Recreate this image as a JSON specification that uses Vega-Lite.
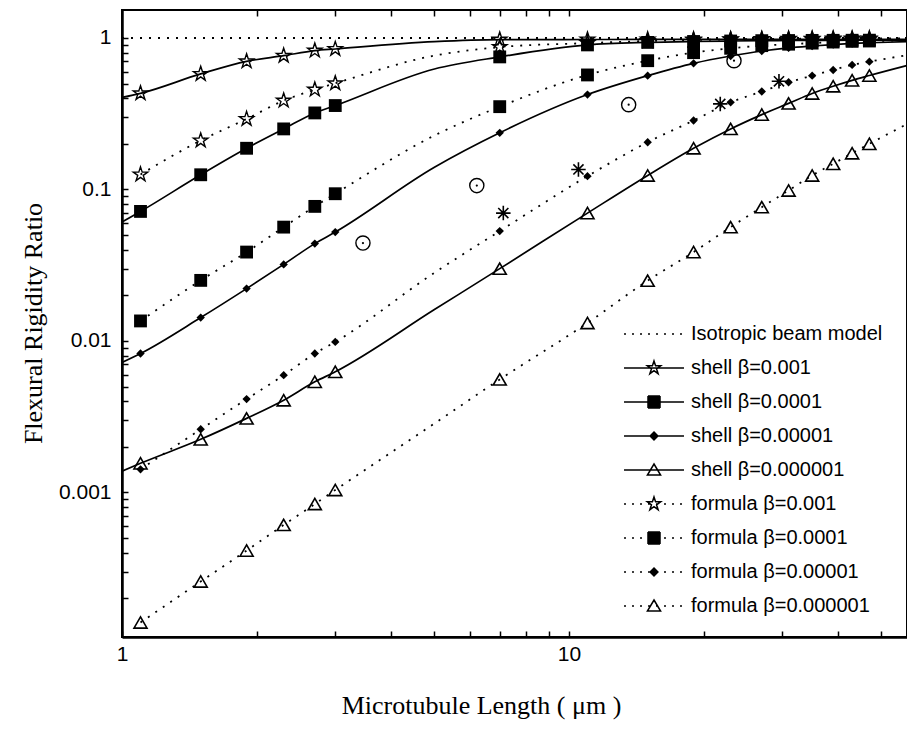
{
  "$schema": "https://vega.github.io/schema/vega-lite/v6.json",
  "width": 785,
  "height": 627,
  "autosize": {"type": "none"},
  "padding": {"left": 122, "top": 10, "right": 0, "bottom": 93},
  "background": "white",
  "config": {
    "view": {"stroke": "black", "strokeWidth": 2},
    "axis": {"domainColor": "black", "domainWidth": 2.5, "tickColor": "black", "tickWidth": 1.5, "labelColor": "black", "labelFont": "Liberation Sans", "labelFontSize": 21, "titleColor": "black", "titleFont": "Liberation Serif", "titleFontSize": 26, "titleFontWeight": "normal", "grid": false}
  },
  "datasets": {
    "curves": [
      {"series": "Isotropic beam model", "x": 1, "y": 1},
      {"series": "Isotropic beam model", "x": 57, "y": 1},
      {"series": "shell β=0.001", "x": 1, "y": 0.405},
      {"series": "shell β=0.001", "x": 1.1, "y": 0.431},
      {"series": "shell β=0.001", "x": 1.5, "y": 0.579},
      {"series": "shell β=0.001", "x": 1.9, "y": 0.701},
      {"series": "shell β=0.001", "x": 2.3, "y": 0.764},
      {"series": "shell β=0.001", "x": 2.7, "y": 0.825},
      {"series": "shell β=0.001", "x": 3, "y": 0.846},
      {"series": "shell β=0.001", "x": 5, "y": 0.945},
      {"series": "shell β=0.001", "x": 7, "y": 0.975},
      {"series": "shell β=0.001", "x": 11, "y": 0.977},
      {"series": "shell β=0.001", "x": 15, "y": 0.978},
      {"series": "shell β=0.001", "x": 19, "y": 0.978},
      {"series": "shell β=0.001", "x": 23, "y": 0.979},
      {"series": "shell β=0.001", "x": 27, "y": 0.979},
      {"series": "shell β=0.001", "x": 31, "y": 0.98},
      {"series": "shell β=0.001", "x": 35, "y": 0.98},
      {"series": "shell β=0.001", "x": 39, "y": 0.98},
      {"series": "shell β=0.001", "x": 43, "y": 0.98},
      {"series": "shell β=0.001", "x": 47, "y": 0.981},
      {"series": "shell β=0.001", "x": 57, "y": 0.981},
      {"series": "shell β=0.0001", "x": 1, "y": 0.061},
      {"series": "shell β=0.0001", "x": 1.1, "y": 0.0716},
      {"series": "shell β=0.0001", "x": 1.5, "y": 0.125},
      {"series": "shell β=0.0001", "x": 1.9, "y": 0.187},
      {"series": "shell β=0.0001", "x": 2.3, "y": 0.251},
      {"series": "shell β=0.0001", "x": 2.7, "y": 0.32},
      {"series": "shell β=0.0001", "x": 3, "y": 0.358},
      {"series": "shell β=0.0001", "x": 5, "y": 0.624},
      {"series": "shell β=0.0001", "x": 7, "y": 0.75},
      {"series": "shell β=0.0001", "x": 11, "y": 0.9},
      {"series": "shell β=0.0001", "x": 15, "y": 0.935},
      {"series": "shell β=0.0001", "x": 19, "y": 0.948},
      {"series": "shell β=0.0001", "x": 23, "y": 0.955},
      {"series": "shell β=0.0001", "x": 27, "y": 0.96},
      {"series": "shell β=0.0001", "x": 31, "y": 0.962},
      {"series": "shell β=0.0001", "x": 35, "y": 0.964},
      {"series": "shell β=0.0001", "x": 39, "y": 0.965},
      {"series": "shell β=0.0001", "x": 43, "y": 0.966},
      {"series": "shell β=0.0001", "x": 47, "y": 0.967},
      {"series": "shell β=0.0001", "x": 57, "y": 0.968},
      {"series": "shell β=0.00001", "x": 1, "y": 0.00721},
      {"series": "shell β=0.00001", "x": 1.1, "y": 0.00826},
      {"series": "shell β=0.00001", "x": 1.5, "y": 0.01426},
      {"series": "shell β=0.00001", "x": 1.9, "y": 0.02215},
      {"series": "shell β=0.00001", "x": 2.3, "y": 0.032},
      {"series": "shell β=0.00001", "x": 2.7, "y": 0.0439},
      {"series": "shell β=0.00001", "x": 3, "y": 0.0523},
      {"series": "shell β=0.00001", "x": 5, "y": 0.14},
      {"series": "shell β=0.00001", "x": 7, "y": 0.2365},
      {"series": "shell β=0.00001", "x": 11, "y": 0.423},
      {"series": "shell β=0.00001", "x": 15, "y": 0.564},
      {"series": "shell β=0.00001", "x": 19, "y": 0.68},
      {"series": "shell β=0.00001", "x": 23, "y": 0.76},
      {"series": "shell β=0.00001", "x": 27, "y": 0.82},
      {"series": "shell β=0.00001", "x": 31, "y": 0.86},
      {"series": "shell β=0.00001", "x": 35, "y": 0.885},
      {"series": "shell β=0.00001", "x": 39, "y": 0.905},
      {"series": "shell β=0.00001", "x": 43, "y": 0.92},
      {"series": "shell β=0.00001", "x": 47, "y": 0.93},
      {"series": "shell β=0.00001", "x": 57, "y": 0.945},
      {"series": "shell β=0.000001", "x": 1, "y": 0.00138},
      {"series": "shell β=0.000001", "x": 1.1, "y": 0.001556},
      {"series": "shell β=0.000001", "x": 1.5, "y": 0.00224},
      {"series": "shell β=0.000001", "x": 1.9, "y": 0.00308},
      {"series": "shell β=0.000001", "x": 2.3, "y": 0.00406},
      {"series": "shell β=0.000001", "x": 2.7, "y": 0.00537},
      {"series": "shell β=0.000001", "x": 3, "y": 0.00625},
      {"series": "shell β=0.000001", "x": 5, "y": 0.0161},
      {"series": "shell β=0.000001", "x": 7, "y": 0.03},
      {"series": "shell β=0.000001", "x": 11, "y": 0.0698},
      {"series": "shell β=0.000001", "x": 15, "y": 0.1237},
      {"series": "shell β=0.000001", "x": 19, "y": 0.187},
      {"series": "shell β=0.000001", "x": 23, "y": 0.251},
      {"series": "shell β=0.000001", "x": 27, "y": 0.312},
      {"series": "shell β=0.000001", "x": 31, "y": 0.37},
      {"series": "shell β=0.000001", "x": 35, "y": 0.43},
      {"series": "shell β=0.000001", "x": 39, "y": 0.48},
      {"series": "shell β=0.000001", "x": 43, "y": 0.525},
      {"series": "shell β=0.000001", "x": 47, "y": 0.565},
      {"series": "shell β=0.000001", "x": 57, "y": 0.657},
      {"series": "formula β=0.001", "x": 1.1, "y": 0.1256},
      {"series": "formula β=0.001", "x": 1.5, "y": 0.2104},
      {"series": "formula β=0.001", "x": 1.9, "y": 0.292},
      {"series": "formula β=0.001", "x": 2.3, "y": 0.386},
      {"series": "formula β=0.001", "x": 2.7, "y": 0.456},
      {"series": "formula β=0.001", "x": 3, "y": 0.502},
      {"series": "formula β=0.001", "x": 5, "y": 0.765},
      {"series": "formula β=0.001", "x": 7, "y": 0.87},
      {"series": "formula β=0.001", "x": 11, "y": 0.925},
      {"series": "formula β=0.001", "x": 15, "y": 0.955},
      {"series": "formula β=0.001", "x": 19, "y": 0.97},
      {"series": "formula β=0.001", "x": 23, "y": 0.978},
      {"series": "formula β=0.001", "x": 27, "y": 0.984},
      {"series": "formula β=0.001", "x": 31, "y": 0.987},
      {"series": "formula β=0.001", "x": 35, "y": 0.989},
      {"series": "formula β=0.001", "x": 39, "y": 0.991},
      {"series": "formula β=0.001", "x": 43, "y": 0.992},
      {"series": "formula β=0.001", "x": 47, "y": 0.993},
      {"series": "formula β=0.001", "x": 57, "y": 0.995},
      {"series": "formula β=0.0001", "x": 1.1, "y": 0.01355},
      {"series": "formula β=0.0001", "x": 1.5, "y": 0.0251},
      {"series": "formula β=0.0001", "x": 1.9, "y": 0.0386},
      {"series": "formula β=0.0001", "x": 2.3, "y": 0.0564},
      {"series": "formula β=0.0001", "x": 2.7, "y": 0.0773},
      {"series": "formula β=0.0001", "x": 3, "y": 0.0937},
      {"series": "formula β=0.0001", "x": 5, "y": 0.227},
      {"series": "formula β=0.0001", "x": 7, "y": 0.352},
      {"series": "formula β=0.0001", "x": 11, "y": 0.57},
      {"series": "formula β=0.0001", "x": 15, "y": 0.708},
      {"series": "formula β=0.0001", "x": 19, "y": 0.8},
      {"series": "formula β=0.0001", "x": 23, "y": 0.855},
      {"series": "formula β=0.0001", "x": 27, "y": 0.89},
      {"series": "formula β=0.0001", "x": 31, "y": 0.91},
      {"series": "formula β=0.0001", "x": 35, "y": 0.925},
      {"series": "formula β=0.0001", "x": 39, "y": 0.94},
      {"series": "formula β=0.0001", "x": 43, "y": 0.95},
      {"series": "formula β=0.0001", "x": 47, "y": 0.955},
      {"series": "formula β=0.0001", "x": 57, "y": 0.965},
      {"series": "formula β=0.00001", "x": 1.1, "y": 0.00142},
      {"series": "formula β=0.00001", "x": 1.5, "y": 0.00261},
      {"series": "formula β=0.00001", "x": 1.9, "y": 0.00413},
      {"series": "formula β=0.00001", "x": 2.3, "y": 0.00594},
      {"series": "formula β=0.00001", "x": 2.7, "y": 0.00826},
      {"series": "formula β=0.00001", "x": 3, "y": 0.00985},
      {"series": "formula β=0.00001", "x": 5, "y": 0.0282},
      {"series": "formula β=0.00001", "x": 7, "y": 0.0531},
      {"series": "formula β=0.00001", "x": 11, "y": 0.1224},
      {"series": "formula β=0.00001", "x": 15, "y": 0.205},
      {"series": "formula β=0.00001", "x": 19, "y": 0.285},
      {"series": "formula β=0.00001", "x": 23, "y": 0.376},
      {"series": "formula β=0.00001", "x": 27, "y": 0.443},
      {"series": "formula β=0.00001", "x": 31, "y": 0.51},
      {"series": "formula β=0.00001", "x": 35, "y": 0.564},
      {"series": "formula β=0.00001", "x": 39, "y": 0.615},
      {"series": "formula β=0.00001", "x": 43, "y": 0.664},
      {"series": "formula β=0.00001", "x": 47, "y": 0.698},
      {"series": "formula β=0.00001", "x": 57, "y": 0.77},
      {"series": "formula β=0.000001", "x": 1.1, "y": 0.0001384},
      {"series": "formula β=0.000001", "x": 1.5, "y": 0.000258},
      {"series": "formula β=0.000001", "x": 1.9, "y": 0.000413},
      {"series": "formula β=0.000001", "x": 2.3, "y": 0.00061},
      {"series": "formula β=0.000001", "x": 2.7, "y": 0.000838},
      {"series": "formula β=0.000001", "x": 3, "y": 0.001037},
      {"series": "formula β=0.000001", "x": 5, "y": 0.00285},
      {"series": "formula β=0.000001", "x": 7, "y": 0.00557},
      {"series": "formula β=0.000001", "x": 11, "y": 0.01314},
      {"series": "formula β=0.000001", "x": 15, "y": 0.025},
      {"series": "formula β=0.000001", "x": 19, "y": 0.0386},
      {"series": "formula β=0.000001", "x": 23, "y": 0.0564},
      {"series": "formula β=0.000001", "x": 27, "y": 0.0764},
      {"series": "formula β=0.000001", "x": 31, "y": 0.0985},
      {"series": "formula β=0.000001", "x": 35, "y": 0.1237},
      {"series": "formula β=0.000001", "x": 39, "y": 0.1476},
      {"series": "formula β=0.000001", "x": 43, "y": 0.1735},
      {"series": "formula β=0.000001", "x": 47, "y": 0.2},
      {"series": "formula β=0.000001", "x": 57, "y": 0.27}
    ],
    "circles": [
      {"x": 3.46, "y": 0.0443},
      {"x": 6.22, "y": 0.106},
      {"x": 13.6, "y": 0.363},
      {"x": 23.4, "y": 0.708}
    ],
    "asterisks": [
      {"x": 7.13, "y": 0.0698},
      {"x": 10.5, "y": 0.1355},
      {"x": 21.8, "y": 0.367},
      {"x": 29.5, "y": 0.5175}
    ]
  },
  "layer": [
    {
      "layer": [
        {
          "data": {"name": "curves"},
          "transform": [{"filter": "indexof(datum.series, 'shell') == 0"}],
          "mark": {"type": "line", "interpolate": "monotone", "strokeWidth": 1.7, "color": "black", "clip": true},
          "encoding": {
            "x": {"field": "x", "type": "quantitative", "scale": {"type": "log", "domain": [1, 57.05], "nice": false},
              "axis": {"orient": "bottom", "values": [1, 2, 3, 4, 5, 6, 7, 8, 9, 10, 20, 30, 40, 50], "format": "~g",
                "labelExpr": "datum.value == 1 || datum.value == 10 ? datum.label : ''",
                "tickSize": -6, "labelPadding": 12, "labelFlush": false,
                "title": "Microtubule Length ( μm )", "titleX": 359, "titleY": 76, "titleAlign": "center", "titleBaseline": "alphabetic"}},
            "y": {"field": "y", "type": "quantitative", "scale": {"type": "log", "domain": [0.000111, 1.53], "nice": false},
              "axis": {"orient": "left", "values": [0.0002, 0.0003, 0.0004, 0.0005, 0.0006, 0.0007, 0.0008, 0.0009, 0.001, 0.002, 0.003, 0.004, 0.005, 0.006, 0.007, 0.008, 0.009, 0.01, 0.02, 0.03, 0.04, 0.05, 0.06, 0.07, 0.08, 0.09, 0.1, 0.2, 0.3, 0.4, 0.5, 0.6, 0.7, 0.8, 0.9, 1], "format": "~g",
                "labelExpr": "datum.value == 1 || datum.value == 0.1 || datum.value == 0.01 || datum.value == 0.001 ? datum.label : ''",
                "tickSize": -6, "labelPadding": 17, "labelFlush": false,
                "title": "Flexural Rigidity Ratio", "titleX": -89, "titleY": 313, "titleAngle": 270, "titleAlign": "center", "titleBaseline": "middle"}},
            "detail": {"field": "series"}
          }
        },
        {
          "data": {"name": "curves"},
          "transform": [{"filter": "indexof(datum.series, 'shell') != 0"}],
          "mark": {"type": "line", "interpolate": "monotone", "strokeWidth": 1.8, "strokeDash": [2, 7], "color": "black", "clip": true},
          "encoding": {
            "x": {"field": "x", "type": "quantitative"},
            "y": {"field": "y", "type": "quantitative"},
            "detail": {"field": "series"}
          }
        },
        {
          "data": {"name": "curves"},
          "transform": [
            {"filter": {"field": "series", "oneOf": ["shell β=0.001", "formula β=0.001"]}},
            {"filter": "datum.x != 1 && datum.x != 5 && datum.x != 57"}
          ],
          "mark": {"type": "point", "shape": "M0,-1L0.225,-0.309L0.951,-0.309L0.363,0.118L0.588,0.809L0,0.382L-0.588,0.809L-0.363,0.118L-0.951,-0.309L-0.225,-0.309Z", "size": 230, "filled": false, "color": "black", "strokeWidth": 1.4, "opacity": 1},
          "encoding": {"x": {"field": "x", "type": "quantitative"}, "y": {"field": "y", "type": "quantitative"}}
        },
        {
          "data": {"name": "curves"},
          "transform": [
            {"filter": {"field": "series", "oneOf": ["shell β=0.0001", "formula β=0.0001"]}},
            {"filter": "datum.x != 1 && datum.x != 5 && datum.x != 57"}
          ],
          "mark": {"type": "point", "shape": "square", "size": 165, "filled": true, "color": "black", "opacity": 1},
          "encoding": {"x": {"field": "x", "type": "quantitative"}, "y": {"field": "y", "type": "quantitative"}}
        },
        {
          "data": {"name": "curves"},
          "transform": [
            {"filter": {"field": "series", "oneOf": ["shell β=0.00001", "formula β=0.00001"]}},
            {"filter": "datum.x != 1 && datum.x != 5 && datum.x != 57"}
          ],
          "mark": {"type": "point", "shape": "diamond", "size": 70, "filled": true, "color": "black", "opacity": 1},
          "encoding": {"x": {"field": "x", "type": "quantitative"}, "y": {"field": "y", "type": "quantitative"}}
        },
        {
          "data": {"name": "curves"},
          "transform": [
            {"filter": {"field": "series", "oneOf": ["shell β=0.000001", "formula β=0.000001"]}},
            {"filter": "datum.x != 1 && datum.x != 5 && datum.x != 57"}
          ],
          "mark": {"type": "point", "shape": "triangle-up", "size": 170, "filled": false, "color": "black", "strokeWidth": 1.6, "opacity": 1},
          "encoding": {"x": {"field": "x", "type": "quantitative"}, "y": {"field": "y", "type": "quantitative"}}
        },
        {
          "data": {"name": "circles"},
          "mark": {"type": "point", "shape": "circle", "size": 200, "filled": false, "color": "black", "strokeWidth": 1.4, "opacity": 1},
          "encoding": {"x": {"field": "x", "type": "quantitative"}, "y": {"field": "y", "type": "quantitative"}}
        },
        {
          "data": {"name": "circles"},
          "mark": {"type": "circle", "size": 5, "color": "black", "opacity": 1},
          "encoding": {"x": {"field": "x", "type": "quantitative"}, "y": {"field": "y", "type": "quantitative"}}
        },
        {
          "data": {"name": "asterisks"},
          "mark": {"type": "point", "shape": "M0,-1L0,1M-1,0L1,0M-0.7,-0.7L0.7,0.7M-0.7,0.7L0.7,-0.7", "size": 210, "filled": false, "color": "black", "strokeWidth": 1.6, "opacity": 1},
          "encoding": {"x": {"field": "x", "type": "quantitative"}, "y": {"field": "y", "type": "quantitative"}}
        },
        {
          "data": {"name": "curves"},
          "transform": [{"filter": "datum.x > 1000"}],
          "mark": {"type": "point", "size": 2025, "filled": false, "color": "black", "strokeWidth": 1.5, "opacity": 1},
          "encoding": {
            "x": {"field": "x", "type": "quantitative"},
            "y": {"field": "y", "type": "quantitative"},
            "shape": {"field": "series", "type": "nominal",
              "scale": {"domain": ["Isotropic beam model", "shell β=0.001", "shell β=0.0001", "shell β=0.00001", "shell β=0.000001", "formula β=0.001", "formula β=0.0001", "formula β=0.00001", "formula β=0.000001"],
                "range": [
                  "M-1.333,0L-1.244,0M-0.978,0L-0.889,0M-0.622,0L-0.533,0M-0.267,0L-0.178,0M0.089,0L0.178,0M0.444,0L0.533,0M0.8,0L0.889,0M1.156,0L1.244,0",
                  "M-1.333,0L1.333,0M0,-0.311L0.07,-0.096L0.296,-0.096L0.113,0.037L0.183,0.252L0,0.119L-0.183,0.252L-0.113,0.037L-0.296,-0.096L-0.07,-0.096Z",
                  "M-1.333,0L1.333,0M-0.267,-0.267L0.267,-0.267M-0.267,-0.222L0.267,-0.222M-0.267,-0.178L0.267,-0.178M-0.267,-0.133L0.267,-0.133M-0.267,-0.089L0.267,-0.089M-0.267,-0.044L0.267,-0.044M-0.267,0.044L0.267,0.044M-0.267,0.089L0.267,0.089M-0.267,0.133L0.267,0.133M-0.267,0.178L0.267,0.178M-0.267,0.222L0.267,0.222M-0.267,0.267L0.267,0.267M-0.267,-0.267L-0.267,0.267M0.267,-0.267L0.267,0.267",
                  "M-1.333,0L1.333,0M0,-0.173L0.173,0L0,0.173L-0.173,0ZM-0.04,-0.133L0.04,-0.133M-0.084,-0.089L0.084,-0.089M-0.129,-0.044L0.129,-0.044M-0.129,0.044L0.129,0.044M-0.084,0.089L0.084,0.089M-0.04,0.133L0.04,0.133",
                  "M-1.333,0L1.333,0M0,-0.267L0.293,0.227L-0.293,0.227Z",
                  "M-1.333,0L-1.244,0M-0.978,0L-0.889,0M-0.622,0L-0.533,0M-0.267,0L-0.178,0M0.089,0L0.178,0M0.444,0L0.533,0M0.8,0L0.889,0M1.156,0L1.244,0M0,-0.311L0.07,-0.096L0.296,-0.096L0.113,0.037L0.183,0.252L0,0.119L-0.183,0.252L-0.113,0.037L-0.296,-0.096L-0.07,-0.096Z",
                  "M-1.333,0L-1.244,0M-0.978,0L-0.889,0M-0.622,0L-0.533,0M-0.267,0L-0.178,0M0.089,0L0.178,0M0.444,0L0.533,0M0.8,0L0.889,0M1.156,0L1.244,0M-0.267,-0.267L0.267,-0.267M-0.267,-0.222L0.267,-0.222M-0.267,-0.178L0.267,-0.178M-0.267,-0.133L0.267,-0.133M-0.267,-0.089L0.267,-0.089M-0.267,-0.044L0.267,-0.044M-0.267,0L0.267,0M-0.267,0.044L0.267,0.044M-0.267,0.089L0.267,0.089M-0.267,0.133L0.267,0.133M-0.267,0.178L0.267,0.178M-0.267,0.222L0.267,0.222M-0.267,0.267L0.267,0.267M-0.267,-0.267L-0.267,0.267M0.267,-0.267L0.267,0.267",
                  "M-1.333,0L-1.244,0M-0.978,0L-0.889,0M-0.622,0L-0.533,0M-0.267,0L-0.178,0M0.089,0L0.178,0M0.444,0L0.533,0M0.8,0L0.889,0M1.156,0L1.244,0M0,-0.173L0.173,0L0,0.173L-0.173,0ZM-0.04,-0.133L0.04,-0.133M-0.084,-0.089L0.084,-0.089M-0.129,-0.044L0.129,-0.044M-0.173,0L0.173,0M-0.129,0.044L0.129,0.044M-0.084,0.089L0.084,0.089M-0.04,0.133L0.04,0.133",
                  "M-1.333,0L-1.244,0M-0.978,0L-0.889,0M-0.622,0L-0.533,0M-0.267,0L-0.178,0M0.089,0L0.178,0M0.444,0L0.533,0M0.8,0L0.889,0M1.156,0L1.244,0M0,-0.267L0.293,0.227L-0.293,0.227Z"
                ]},
              "legend": {"title": null, "orient": "none", "legendX": 508.5, "legendY": 300.5, "labelFont": "Liberation Sans", "labelFontSize": 20, "labelColor": "black", "labelLimit": 500, "labelOffset": 13.5, "symbolSize": 2025, "symbolStrokeColor": "black", "symbolStrokeWidth": 1.5, "symbolOpacity": 1, "rowPadding": 0, "padding": 0}}
          }
        }
      ]
    },
    {
      "data": {"name": "curves"},
      "mark": {"type": "point", "opacity": 0},
      "encoding": {
        "x": {"field": "x", "type": "quantitative", "scale": {"type": "log", "domain": [1, 57.05], "nice": false},
          "axis": {"orient": "top", "values": [2, 3, 4, 5, 6, 7, 8, 9, 10, 20, 30, 40, 50], "labels": false, "title": null, "tickSize": -6, "domain": false}},
        "y": {"field": "y", "type": "quantitative"}
      }
    }
  ],
  "resolve": {"scale": {"x": "independent"}}
}
